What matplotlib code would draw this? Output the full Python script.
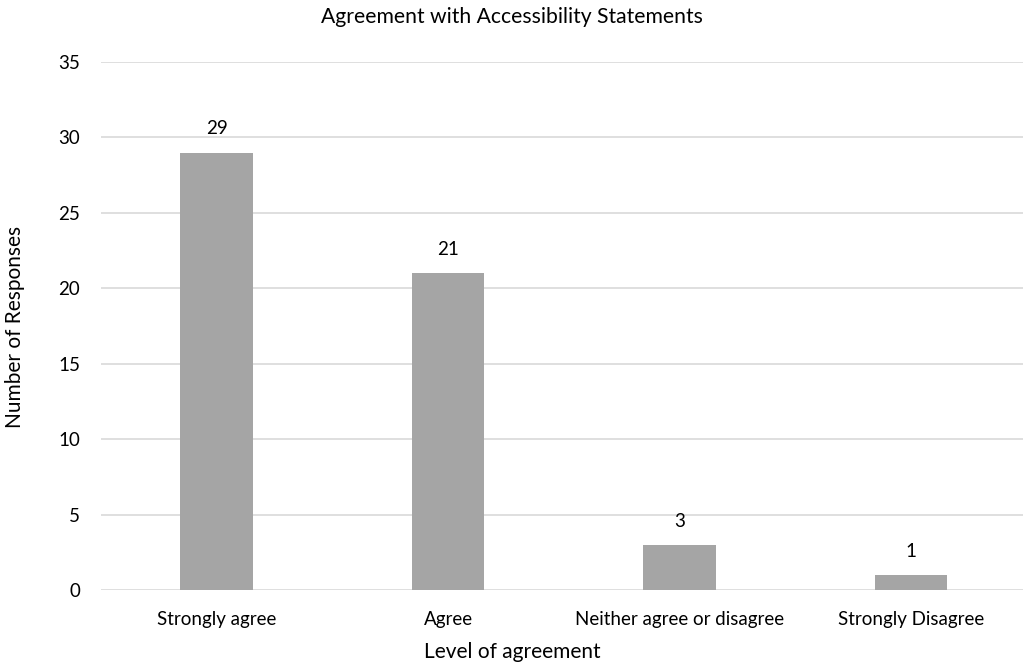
import matplotlib
matplotlib.use("Agg")
import matplotlib.pyplot as plt

# data
categories = ["Strongly agree", "Agree", "Neither agree or disagree", "Strongly Disagree"]
responses = [29, 21, 3, 1]
y_ticks = [0, 5, 10, 15, 20, 25, 30, 35]

plt.rcParams['font.family'] = ['Lato', 'DejaVu Sans']

W, H = 1023, 664
fig = plt.figure(figsize=(W / 100, H / 100), dpi=100)
# axes span in pixels: x 101..1026.7, y 62..590
ax = fig.add_axes([101 / W, (H - 590) / H, (1026.7 - 101) / W, (590 - 62) / H])

x = range(len(categories))
bars = ax.bar(x, responses, width=0.313, color="#A5A5A5", zorder=3)
for b, v in zip(bars, responses):
    ax.text(b.get_x() + b.get_width() / 2, v + 1.0, str(v),
            ha="center", va="bottom", fontsize=13.5, color="#000000")

ax.set_xlim(-0.5, len(categories) - 0.5)
ax.set_ylim(0, 35)
ax.set_yticks(y_ticks)
ax.set_xticks(list(x))
ax.set_xticklabels(categories)
ax.tick_params(axis="both", length=0, labelsize=13.5, colors="#000000")
ax.tick_params(axis="y", pad=15)
ax.tick_params(axis="x", pad=15)
ax.grid(axis="y", color="#D9D9D9", linewidth=1.2, zorder=0)
for s in ax.spines.values():
    s.set_visible(False)

fig.text(512 / W, 1 - 17 / H, "Agreement with Accessibility Statements",
         ha="center", va="center", fontsize=15.2)
fig.text(15 / W, 1 - 327 / H, "Number of Responses", rotation=90,
         ha="center", va="center", fontsize=15)
fig.text(512 / W, 1 - 652 / H, "Level of agreement",
         ha="center", va="center", fontsize=15)

fig.savefig("out.png", dpi=100)
